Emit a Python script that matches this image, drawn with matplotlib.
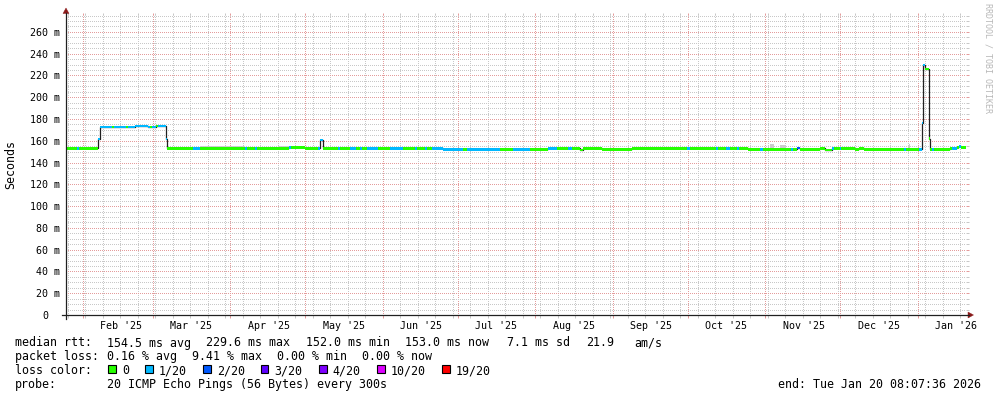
import matplotlib
matplotlib.use("Agg")
import matplotlib.pyplot as plt
import matplotlib.dates as mdates
from matplotlib.patches import Rectangle, Polygon
from matplotlib.lines import Line2D
from matplotlib.ticker import MultipleLocator
from matplotlib.transforms import blended_transform_factory
import numpy as np
import pandas as pd

# ---------------- data ----------------
period_start = "2025-01-25 08:07:36"
period_end = "2026-01-20 08:07:36"

seg_start = [
    "2025-01-25 08:07", "2025-01-29 18:00", "2025-01-30 13:00", "2025-02-07 03:00",
    "2025-02-07 18:00", "2025-02-12 18:00", "2025-02-13 13:00", "2025-02-18 08:00",
    "2025-02-19 03:00", "2025-02-21 23:00", "2025-02-27 03:00", "2025-02-27 23:00",
    "2025-02-28 18:00", "2025-03-02 08:00", "2025-03-03 03:00", "2025-03-06 08:00",
    "2025-03-06 21:00", "2025-03-17 03:00", "2025-03-19 23:00", "2025-04-06 23:00",
    "2025-04-07 18:00", "2025-04-10 23:00", "2025-04-11 18:00", "2025-04-24 13:00",
    "2025-04-25 08:00", "2025-04-30 23:00", "2025-05-06 03:00", "2025-05-06 18:00",
    "2025-05-07 23:00", "2025-05-14 03:00", "2025-05-14 23:00", "2025-05-18 23:00",
    "2025-05-21 08:00", "2025-05-22 23:00", "2025-05-23 18:00", "2025-05-25 18:00",
    "2025-05-30 03:00", "2025-06-03 23:00", "2025-06-09 03:00", "2025-06-13 23:00",
    "2025-06-14 18:00", "2025-06-17 23:00", "2025-06-18 18:00", "2025-06-20 18:00",
    "2025-06-25 03:00", "2025-07-03 03:00", "2025-07-04 18:00", "2025-07-17 23:00",
    "2025-07-23 03:00", "2025-07-29 23:00", "2025-08-06 03:00", "2025-08-09 18:00",
    "2025-08-14 03:00", "2025-08-15 18:00", "2025-08-18 23:00", "2025-08-20 03:00",
    "2025-08-27 18:00", "2025-09-08 18:00", "2025-09-30 18:00", "2025-10-01 23:00",
    "2025-10-12 08:00", "2025-10-13 03:00", "2025-10-16 08:00", "2025-10-17 23:00",
    "2025-10-20 18:00", "2025-10-21 13:00", "2025-10-25 03:00", "2025-10-29 23:00",
    "2025-10-31 03:00", "2025-11-11 08:00", "2025-11-12 03:00", "2025-11-13 18:00",
    "2025-11-14 23:00", "2025-11-22 23:00", "2025-11-24 23:00", "2025-11-27 18:00",
    "2025-11-28 13:00", "2025-11-30 23:00", "2025-12-01 08:00", "2025-12-06 23:00",
    "2025-12-08 13:00", "2025-12-10 13:00", "2025-12-26 13:00", "2025-12-27 08:00",
    "2026-01-01 13:00", "2026-01-02 18:00", "2026-01-03 06:00", "2026-01-04 03:00",
    "2026-01-05 10:00", "2026-01-05 18:00", "2026-01-06 18:00", "2026-01-07 13:00",
    "2026-01-13 23:00", "2026-01-14 18:00", "2026-01-16 18:00", "2026-01-17 13:00",
    "2026-01-18 08:00",
]
seg_median = [
    153.0, 153.0, 153.0, 161.5,
    172.5, 172.5, 172.5, 172.5,
    172.5, 173.4, 172.5, 172.5,
    172.5, 173.4, 173.4, 161.5,
    153.0, 153.0, 153.0, 153.0,
    153.0, 153.0, 153.0, 154.1,
    154.1, 153.0, 153.0, 160.8,
    153.0, 153.0, 153.0, 153.0,
    153.0, 153.0, 153.0, 153.0,
    153.0, 153.0, 153.0, 153.0,
    153.0, 153.0, 153.0, 153.0,
    152.0, 152.0, 152.0, 152.0,
    152.0, 152.0, 153.0, 153.0,
    153.0, 153.0, 151.5, 153.0,
    152.0, 153.0, 153.0, 153.0,
    153.0, 153.0, 153.0, 153.0,
    153.0, 153.0, 152.0, 152.0,
    152.0, 152.0, 152.0, 153.5,
    152.0, 153.0, 151.5, 153.0,
    153.0, 153.0, 153.0, 152.0,
    153.0, 152.0, 152.0, 152.0,
    152.0, 176.5, 229.6, 226.0,
    162.0, 152.0, 152.0, 152.0,
    153.0, 153.0, 154.0, 155.0,
    154.0,
]
seg_loss = [
    0, 1, 0, 1,
    1, 0, 1, 0,
    1, 1, 1, 0,
    1, 0, 1, 1,
    0, 1, 0, 1,
    0, 1, 0, 1,
    0, 0, 1, 1,
    0, 1, 0, 1,
    0, 1, 0, 1,
    0, 1, 0, 1,
    0, 1, 0, 1,
    1, 0, 1, 0,
    1, 0, 1, 0,
    1, 0, 0, 0,
    0, 0, 1, 0,
    1, 0, 1, 0,
    1, 0, 0, 1,
    0, 1, 0, 2,
    0, 0, 0, 1,
    0, 1, 0, 0,
    0, 0, 1, 0,
    1, 1, 1, 0,
    0, 0, 1, 0,
    0, 1, 0, 1,
    0,
]

smoke_start = ["2025-03-19 23:00", "2025-04-20 00:00", "2025-11-03 00:00", "2025-11-07 00:00", "2025-12-28 12:00"]
smoke_end = ["2025-04-07 00:00", "2025-04-24 12:00", "2025-11-04 12:00", "2025-11-09 12:00", "2025-12-29 00:00"]
smoke_top = [155.5, 155.5, 157.5, 156.5, 157.0]

loss_labels = ["0", "1/20", "2/20", "3/20", "4/20", "10/20", "19/20"]
loss_colors = ["#26ff00", "#00b8ff", "#0059ff", "#5e00ff", "#7e00ff", "#dd00ff", "#ff0000"]

y_ticks = [0, 20, 40, 60, 80, 100, 120, 140, 160, 180, 200, 220, 240, 260]
y_tick_labels = ["0"] + [f"{v} m" for v in y_ticks[1:]]
month_starts = ["2025-02-01", "2025-03-01", "2025-04-01", "2025-05-01", "2025-06-01", "2025-07-01",
                "2025-08-01", "2025-09-01", "2025-10-01", "2025-11-01", "2025-12-01", "2026-01-01"]
month_labels = ["Feb '25", "Mar '25", "Apr '25", "May '25", "Jun '25", "Jul '25",
                "Aug '25", "Sep '25", "Oct '25", "Nov '25", "Dec '25", "Jan '26"]

rtt_stats = ["154.5 ms avg", "229.6 ms max", "152.0 ms min", "153.0 ms now", "7.1 ms sd", "21.9", "am/s"]
loss_stats = ["0.16 % avg", "9.41 % max", "0.00 % min", "0.00 % now"]
probe_text = "20 ICMP Echo Pings (56 Bytes) every 300s"
end_text = "end: Tue Jan 20 08:07:36 2026"

# ---------------- figure ----------------
W, H = 997, 397
MONO = "DejaVu Sans Mono"
plt.rcParams["font.family"] = MONO
fig = plt.figure(figsize=(W / 100, H / 100), dpi=100, facecolor="white")


def fx(x):
    return x / W


def fy(y):
    return 1 - y / H


ax = fig.add_axes([fx(66), fy(315), 900 / W, 300 / H], facecolor="white")
t0 = mdates.date2num(pd.Timestamp(period_start))
t1 = mdates.date2num(pd.Timestamp(period_end))
ax.set_xlim(t0, t1)
ymax = 1.2 * max(seg_median)
ax.set_ylim(0, ymax)

for s in ax.spines.values():
    s.set_visible(False)

month_nums = mdates.date2num(pd.to_datetime(month_starts))
ax.set_xticks(month_nums)
ax.xaxis.set_minor_locator(mdates.WeekdayLocator(byweekday=mdates.SU))
ax.set_yticks(y_ticks)
ax.yaxis.set_minor_locator(MultipleLocator(5))

major_c = "#e49c9c"
minor_c = "#c8c8c8"
dot = (0.5, (1, 1))
ax.grid(which="major", color=major_c, linestyle=dot, linewidth=0.72, zorder=0)
ax.grid(which="minor", color=minor_c, linestyle=dot, linewidth=0.72, zorder=0)
ax.set_axisbelow(True)
ax.tick_params(which="both", labelbottom=False, labelleft=False, direction="out",
               length=1.8, width=0.72, top=True, right=True, left=False, bottom=True)
ax.tick_params(which="major", color=major_c)
ax.tick_params(which="minor", color=minor_c)

# smoke
s_st = mdates.date2num(pd.to_datetime(smoke_start))
s_en = mdates.date2num(pd.to_datetime(smoke_end))
ax.bar(s_st, np.array(smoke_top) - 152.0, width=s_en - s_st, bottom=152.0, align="edge",
       color="#cccccc", linewidth=0, zorder=1)

# median line (black) + loss-coloured bars
starts = mdates.date2num(pd.to_datetime(seg_start))
edges = np.append(starts, t1)
med = np.array(seg_median)
ax.step(edges, np.append(med, med[-1]), where="post", color="#202020", linewidth=0.9, zorder=2)
h = 1.2
ax.bar(starts, 2 * h, width=np.diff(edges), bottom=med - h, align="edge",
       color=[loss_colors[i] for i in seg_loss], linewidth=0, zorder=3)

# y tick labels
tr_y = blended_transform_factory(fig.transFigure, ax.transData)
for v, lab in zip(y_ticks, y_tick_labels):
    xr = 60 if lab.endswith("m") else 48
    ax.text(fx(xr), v, lab, transform=tr_y, ha="right", va="center_baseline",
            fontsize=7.2, family=MONO, color="black", clip_on=False)

# x labels (centred mid-month)
tr_x = blended_transform_factory(ax.transData, fig.transFigure)
for m, lab in zip(month_nums, month_labels):
    ax.text(m + 15.4, fy(325), lab, transform=tr_x, ha="center", va="center_baseline",
            fontsize=7.2, family=MONO, color="black", clip_on=False)

# axes lines and arrows
axis_c = "#202020"
arrow_c = "#8b1a1a"
fig.add_artist(Line2D([fx(62), fx(969)], [fy(315), fy(315)], color=axis_c, linewidth=0.9))
fig.add_artist(Line2D([fx(66), fx(66)], [fy(319), fy(13)], color=axis_c, linewidth=0.9))
fig.add_artist(Polygon([(fx(63), fy(13.5)), (fx(69), fy(13.5)), (fx(66), fy(8))], closed=True,
                       facecolor=arrow_c, edgecolor=arrow_c, linewidth=0.3))
fig.add_artist(Polygon([(fx(968), fy(312)), (fx(968), fy(318)), (fx(973.5), fy(315))], closed=True,
                       facecolor=arrow_c, edgecolor=arrow_c, linewidth=0.3))

fig.text(fx(11), fy(164), "Seconds", rotation=90, ha="center", va="center", fontsize=8.4, family=MONO)
fig.text(fx(987.5), fy(58), "RRDTOOL / TOBI OETIKER", rotation=270, ha="center", va="center",
         fontsize=6.0, family=MONO, color="#b8b8b8")

# legend / stats
fs = 8.4
CW = 7.08  # character cell width in pixels


def put(x, y, s, **kw):
    fig.text(fx(x - 0.7), fy(y), s, ha="left", va="center_baseline", fontsize=fs, family=MONO, **kw)


def col(i):
    return 16 + i * CW


row1_x = [col(13), col(27), col(41), col(55), 507.3, 586.7, 635]
row2_x = [col(13), col(25), col(37), col(49)]
put(16, 341.5, "median rtt:")
for x, s in zip(row1_x, rtt_stats):
    put(x, 341.5, s)
put(16, 355.3, "packet loss:")
for x, s in zip(row2_x, loss_stats):
    put(x, 355.3, s)
put(16, 369.3, "loss color:")
sw_x = [108.3, 145.3, 203, 260.7, 319, 377.3, 442.3]
for sx, lab, c in zip(sw_x, loss_labels, loss_colors):
    fig.add_artist(Rectangle((fx(sx), fy(373.3)), 7.5 / W, 8 / H, facecolor=c,
                             edgecolor="black", linewidth=0.8))
    put(sx + 14.4, 369.3, lab)
put(16, 382.7, "probe:")
put(col(13), 382.7, probe_text)
fig.text(fx(980.5), fy(382.7), end_text, ha="right", va="center_baseline", fontsize=fs, family=MONO)

fig.savefig("out.png", dpi=100, facecolor="white")
